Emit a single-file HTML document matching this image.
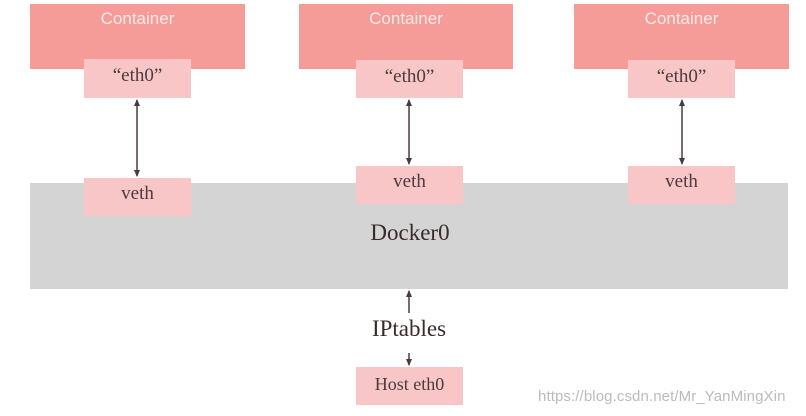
<!DOCTYPE html>
<html><head><meta charset="utf-8"><style>
body{margin:0;width:806px;height:416px;background:#fff;position:relative;overflow:hidden;font-family:"Liberation Serif",serif;}
.b{position:absolute;box-sizing:border-box;text-align:center;}
.c{background:#f59c98;color:#fbe9e8;font-family:"Liberation Sans",sans-serif;font-size:17px;line-height:30px;height:65px;top:4px;}
.p{background:#f9c6c8;color:#4a3c3c;font-size:19px;}
.g{background:#d4d4d4;left:30px;top:183px;width:758px;height:106px;}
svg{position:absolute;left:0;top:0;}
</style></head><body>
<div class="b g"></div>
<div class="b c" style="left:30px;width:215px">Container</div>
<div class="b c" style="left:299px;width:214px">Container</div>
<div class="b c" style="left:574px;width:215px">Container</div>
<div class="b p" style="left:84px;top:59px;width:107px;height:39px;line-height:34px">“eth0”</div>
<div class="b p" style="left:356px;top:60px;width:107px;height:38px;line-height:34px">“eth0”</div>
<div class="b p" style="left:628px;top:60px;width:107px;height:38px;line-height:34px">“eth0”</div>
<div class="b p" style="left:84px;top:178px;width:107px;height:38px;line-height:32px">veth</div>
<div class="b p" style="left:356px;top:166px;width:107px;height:38px;line-height:32px">veth</div>
<div class="b p" style="left:628px;top:166px;width:107px;height:38px;line-height:32px">veth</div>
<div class="b" style="left:300px;top:220px;width:220px;font-size:23px;color:#3a2a2a">Docker0</div>
<div class="b" style="left:330px;top:316px;width:158px;font-size:23px;color:#3a2a2a">IPtables</div>
<div class="b p" style="left:356px;top:367px;width:107px;height:38px;line-height:34px;font-size:18px">Host eth0</div>
<div style="position:absolute;left:538px;top:388px;font-family:'Liberation Sans',sans-serif;font-size:15px;color:#bbb;letter-spacing:0.1px">https://blog.csdn.net/Mr_YanMingXin</div>
<svg width="806" height="416">
<defs><marker id="a" markerWidth="8" markerHeight="8" refX="6" refY="4" orient="auto-start-reverse" markerUnits="userSpaceOnUse"><path d="M0,1 L7,4 L0,7z" fill="#4a3a3a"/></marker></defs>
<g stroke="#4a3a3a" stroke-width="1.5">
<line x1="137" y1="100" x2="137" y2="176" marker-start="url(#a)" marker-end="url(#a)"/>
<line x1="409" y1="100" x2="409" y2="164" marker-start="url(#a)" marker-end="url(#a)"/>
<line x1="682" y1="100" x2="682" y2="164" marker-start="url(#a)" marker-end="url(#a)"/>
<line x1="409" y1="313" x2="409" y2="291" marker-end="url(#a)"/>
<line x1="409" y1="353" x2="409" y2="365" marker-end="url(#a)"/>
</g></svg>
</body></html>
